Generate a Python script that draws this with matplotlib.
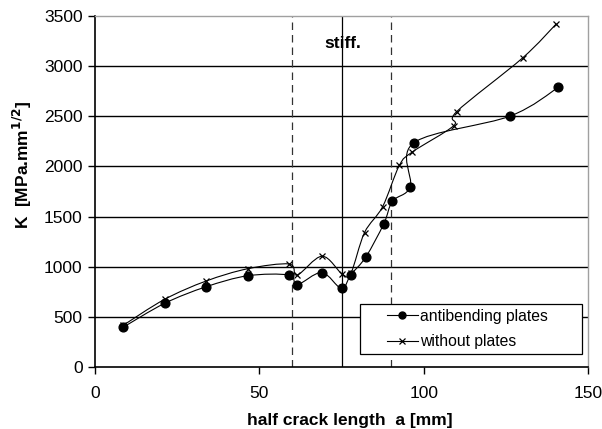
import numpy as np
import matplotlib
matplotlib.use("Agg")
import matplotlib.pyplot as plt
from matplotlib.path import Path
from matplotlib.patches import PathPatch, Rectangle
from matplotlib.lines import Line2D

plt.rcParams['font.family'] = ['Liberation Sans', 'DejaVu Sans']

# half crack length a [mm] and stress intensity K [MPa.mm^1/2]
a_plates = [8.5, 21.2, 33.8, 46.5, 59.0, 61.5, 69.0, 75.0, 77.8, 82.4, 87.9, 90.5, 95.9, 97.1, 126.3, 141.0]
K_plates = [395, 635, 800, 910, 917, 821, 942, 783, 918, 1097, 1430, 1653, 1798, 2238, 2502, 2789]

a_none = [8.6, 21.2, 33.8, 46.5, 59.1, 61.5, 69.1, 75.3, 77.9, 82.0, 87.5, 92.6, 96.6, 109.1, 110.0, 130.1, 140.3]
K_none = [416, 675, 857, 980, 1027, 917, 1105, 924, 940, 1340, 1598, 2010, 2145, 2405, 2545, 3082, 3420]

x_ticks = [0, 50, 100, 150]
y_ticks = [0, 500, 1000, 1500, 2000, 2500, 3000, 3500]
stiffener_a = 75
dashed_a = [60, 90]


def smooth_path(xs, ys):
    """Bezier path through the points (spreadsheet-style smoothed line)."""
    p = np.column_stack([xs, ys]).astype(float)
    n = len(p)
    verts = [p[0]]
    codes = [Path.MOVETO]
    for i in range(n - 1):
        p0 = p[i - 1] if i > 0 else p[i]
        p1 = p[i]
        p2 = p[i + 1]
        p3 = p[i + 2] if i + 2 < n else p[i + 1]
        c1 = p1 + (p2 - p0) / 6.0
        c2 = p2 - (p3 - p1) / 6.0
        verts += [c1, c2, p2]
        codes += [Path.CURVE4] * 3
    return Path(verts, codes)


fig = plt.figure(figsize=(6.02, 4.29), dpi=100)
ax = fig.add_axes([95 / 602, 1 - 367 / 429, 493 / 602, 351 / 429])

ax.set_xlim(0, 150)
ax.set_ylim(0, 3500)
ax.set_xticks(x_ticks)
ax.set_yticks(y_ticks)

for yv in y_ticks[1:-1]:
    ax.axhline(yv, color='black', lw=1.0, zorder=1)

for xv in dashed_a:
    ax.axvline(xv, color='#333333', lw=0.9, ls=(0, (6, 4)), zorder=1)
ax.axvline(stiffener_a, color='black', lw=0.9, zorder=1)

for xs, ys in [(a_plates, K_plates), (a_none, K_none)]:
    ax.add_patch(PathPatch(smooth_path(xs, ys), facecolor='none',
                           edgecolor='black', lw=0.8, zorder=3))

ax.plot(a_plates, K_plates, ls='none', marker='o', ms=6.3, color='black', zorder=4)
ax.plot(a_none, K_none, ls='none', marker='x', ms=5, mew=0.9, color='black', zorder=4)

ax.text(75.5, 3230, 'stiff.', ha='center', va='center', fontsize=12.5, fontweight='bold')

for side in ['top', 'right']:
    ax.spines[side].set_color('#a0a0a0')
    ax.spines[side].set_linewidth(1.0)
for side in ['left', 'bottom']:
    ax.spines[side].set_color('black')
    ax.spines[side].set_linewidth(1.2)

ax.tick_params(direction='out', length=5, width=1, labelsize=12.5, colors='black')
ax.tick_params(axis='y', pad=4)
ax.tick_params(axis='x', pad=9)

ax.set_xlabel('half crack length  a [mm]', fontsize=12.5, fontweight='bold', va='center')
ax.xaxis.set_label_coords(0.517, -0.151)
ax.set_ylabel(r'K  [MPa.mm$^{\mathbf{1/2}}$]', fontsize=12.5, fontweight='bold', va='center')
ax.yaxis.set_label_coords(-0.148, 0.575)

# legend box with entries centred inside it
ax.add_patch(Rectangle((0.5375, 0.037), 0.450, 0.1425, transform=ax.transAxes,
                       facecolor='white', edgecolor='black', lw=0.9, zorder=5))
handles = [
    Line2D([], [], color='black', lw=0.8, marker='o', ms=5),
    Line2D([], [], color='black', lw=0.8, marker='x', ms=4.5, mew=0.9),
]
leg = ax.legend(handles, ['antibending plates', 'without plates'],
                loc='center', bbox_to_anchor=(0.7546, 0.1083),
                fontsize=11.3, frameon=False, handlelength=2.0, handletextpad=0.1,
                borderaxespad=0, borderpad=0.0, labelspacing=0.68)
leg.set_zorder(6)

fig.savefig('out.png', dpi=100)
